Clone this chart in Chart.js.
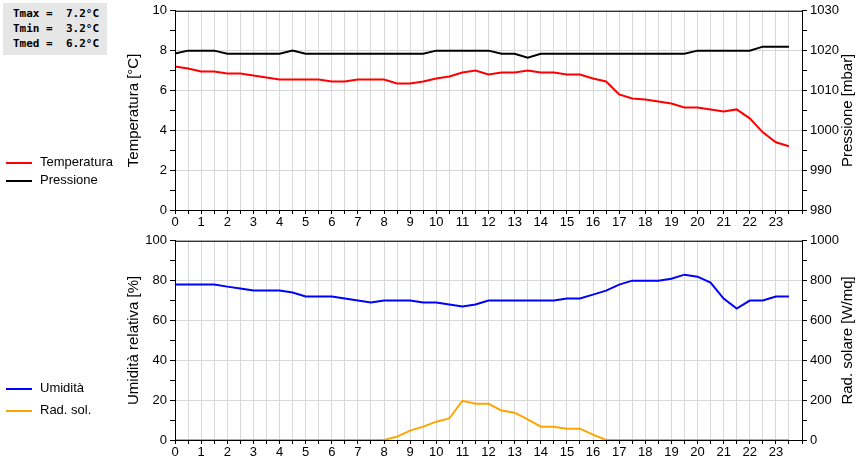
<!DOCTYPE html>
<html lang="it">
<head>
<meta charset="UTF-8" />
<title>Meteo giornaliero</title>
<style>
  body { margin: 0; background: #fff; font-family: "Liberation Sans", Arial, sans-serif; }
  #wrap { position: relative; width: 860px; height: 460px; }
  canvas { position: absolute; left: 0; }
  #stats {
    position: absolute; left: 3px; top: 3px; width: 104px; height: 52px;
    background: #e6e6e6; font: bold 11px "DejaVu Sans Mono", monospace;
    white-space: pre; line-height: 15px; padding: 3px 0 0 10px; box-sizing: border-box;
  }
  .leg { position: absolute; left: 6px; font-size: 13px; }
  .leg span { display: inline-block; width: 26px; height: 2px; vertical-align: middle; margin-right: 8px; }
</style>
</head>
<body>
<div id="wrap">
  <canvas id="top" width="860" height="230" style="top:0"></canvas>
  <canvas id="bot" width="860" height="230" style="top:230px"></canvas>
  <div id="stats"></div>
  <div class="leg" style="top:154px"><span style="background:#f00"></span>Temperatura</div>
  <div class="leg" style="top:172px"><span style="background:#000"></span>Pressione</div>
  <div class="leg" style="top:380px"><span style="background:#00f"></span>Umidità</div>
  <div class="leg" style="top:402px"><span style="background:#ffa500"></span>Rad. sol.</div>
</div>
<script src="https://cdn.jsdelivr.net/npm/chart.js"></script>
<script>
const hours = [0,0.5,1,1.5,2,2.5,3,3.5,4,4.5,5,5.5,6,6.5,7,7.5,8,8.5,9,9.5,10,10.5,11,11.5,12,12.5,13,13.5,14,14.5,15,15.5,16,16.5,17,17.5,18,18.5,19,19.5,20,20.5,21,21.5,22,22.5,23,23.5];
const temperatura = [7.2,7.1,6.95,6.95,6.85,6.85,6.75,6.65,6.55,6.55,6.55,6.55,6.45,6.45,6.55,6.55,6.55,6.35,6.35,6.45,6.6,6.7,6.9,7.0,6.8,6.9,6.9,7.0,6.9,6.9,6.8,6.8,6.6,6.45,5.8,5.6,5.55,5.45,5.35,5.15,5.15,5.05,4.95,5.05,4.6,3.9,3.4,3.2];
const pressione = [1019.3,1020,1020,1020,1019.2,1019.2,1019.2,1019.2,1019.2,1020,1019.2,1019.2,1019.2,1019.2,1019.2,1019.2,1019.2,1019.2,1019.2,1019.2,1020,1020,1020,1020,1020,1019.2,1019.2,1018.2,1019.2,1019.2,1019.2,1019.2,1019.2,1019.2,1019.2,1019.2,1019.2,1019.2,1019.2,1019.2,1020,1020,1020,1020,1020,1021,1021,1021];
const umidita = [78,78,78,78,77,76,75,75,75,74,72,72,72,71,70,69,70,70,70,69,69,68,67,68,70,70,70,70,70,70,71,71,73,75,78,80,80,80,81,83,82,79,71,66,70,70,72,72];
const radSol = [0,0,0,0,0,0,0,0,0,0,0,0,0,0,0,0,0,17,47,67,92,108,197,182,182,148,137,103,67,67,57,57,27,0,0,0,0,0,0,0,0,0,0,0,0,0,0,0];
const statsLines = ["Tmax =  7.2°C", "Tmin =  3.2°C", "Tmed =  6.2°C"];

document.getElementById("stats").textContent = statsLines.join("\n");

Chart.defaults.font.family = '"Liberation Sans", Arial, sans-serif';
Chart.defaults.font.size = 13;
Chart.defaults.color = "#000";

// box around the plot area + right-axis title read bottom-to-top like the left one
const frame = {
  id: "frame",
  afterDraw(c, args, opts) {
    const a = c.chartArea, g = c.ctx;
    g.save(); g.strokeStyle = "#000"; g.lineWidth = 1;
    g.strokeRect(a.left + 0.5, a.top + 0.5, a.right - a.left, a.bottom - a.top);
    g.translate(848, (a.top + a.bottom) / 2);
    g.rotate(-Math.PI / 2);
    g.font = '15px "Liberation Sans", Arial, sans-serif';
    g.fillStyle = "#000"; g.textAlign = "center"; g.textBaseline = "middle";
    g.fillText(opts.rightTitle, 0, 0);
    g.restore();
  }
};

function pts(vals) { return vals.map((v, i) => ({ x: hours[i], y: v })); }

function makeChart(id, s1, s2, y1, y2) {
  const yAxis = (cfg, pos) => ({
    position: pos, min: cfg.min, max: cfg.max,
    afterFit(s) { s.width = pos === "left" ? 52 : 58; },
    title: { display: pos === "left", text: cfg.title, font: { size: 15 }, padding: 2 },
    ticks: { stepSize: cfg.step / 2, autoSkip: false, padding: 3,
      callback: v => (Math.round((v - cfg.min) / cfg.step * 1000) % 1000 === 0 ? v : "") },
    grid: { color: ctx => pos === "left" && ctx.tick && (ctx.tick.value - cfg.min) % cfg.step === 0 ? "#d8d8d8" : "rgba(0,0,0,0)",
      tickColor: "#000", tickLength: 5, drawOnChartArea: pos === "left" },
    border: { color: "#000" }
  });
  return new Chart(document.getElementById(id), {
    type: "line",
    data: { datasets: [
      { data: pts(s1.data), borderColor: s1.color, borderWidth: 2, pointRadius: 0, yAxisID: "y", tension: 0, clip: 4 },
      { data: pts(s2.data), borderColor: s2.color, borderWidth: 2, pointRadius: 0, yAxisID: "y1", tension: 0, clip: 4 }
    ] },
    options: {
      responsive: false, animation: false,
      layout: { padding: { left: 123, top: 10, right: 0, bottom: 0 } },
      plugins: { legend: { display: false }, tooltip: { enabled: false }, frame: { rightTitle: y2.title } },
      scales: {
        x: { type: "linear", min: 0, max: 24,
          afterFit(s) { s.height = 20; },
          ticks: { stepSize: 0.5, autoSkip: false, maxRotation: 0, padding: 1,
            callback: v => (Number.isInteger(v) && v < 24 ? v : "") },
          grid: { color: "#d8d8d8", tickColor: "#000", tickLength: 4 },
          border: { color: "#000" } },
        y: yAxis(y1, "left"),
        y1: yAxis(y2, "right")
      }
    },
    plugins: [frame]
  });
}

makeChart("top",
  { data: temperatura, color: "#ff0000" }, { data: pressione, color: "#000000" },
  { min: 0, max: 10, step: 2, title: "Temperatura [°C]" },
  { min: 980, max: 1030, step: 10, title: "Pressione [mbar]" });
makeChart("bot",
  { data: umidita, color: "#0000ff" }, { data: radSol, color: "#ffa500" },
  { min: 0, max: 100, step: 20, title: "Umidità relativa [%]" },
  { min: 0, max: 1000, step: 200, title: "Rad. solare [W/mq]" });
</script>
</body>
</html>
